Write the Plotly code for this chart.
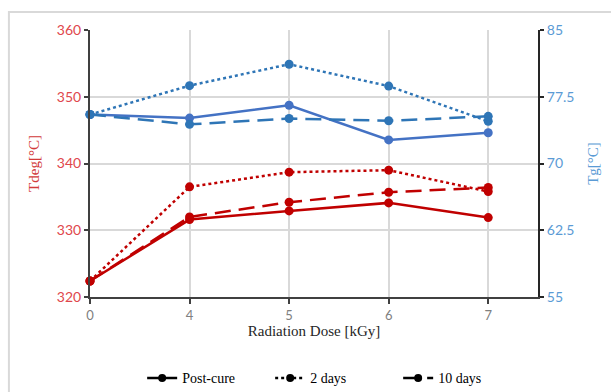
import plotly.graph_objects as go

# Radiation dose categories (kGy)
doses = ["0", "4", "5", "6", "7"]

# Degradation temperature Tdeg [°C] (left axis)
tdeg_post_cure = [322.4, 331.6, 332.9, 334.1, 331.9]
tdeg_2_days = [322.4, 336.5, 338.7, 339.0, 335.8]
tdeg_10_days = [322.4, 332.0, 334.2, 335.7, 336.4]

# Glass transition temperature Tg [°C] (right axis)
tg_post_cure = [75.5, 75.1, 76.55, 72.65, 73.45]
tg_2_days = [75.5, 78.75, 81.15, 78.7, 74.75]
tg_10_days = [75.5, 74.4, 75.05, 74.8, 75.3]

left_ticks = [320, 330, 340, 350, 360]
right_ticks = [55, 62.5, 70, 77.5, 85]

series_names = ["Post-cure", "2 days", "10 days"]
dashes = ["solid", "dot", "16px,8px"]

RED = "#C00000"
BLUE_SOLID = "#4472C4"
BLUE = "#2E75B6"
SERIF = "Liberation Serif, Times New Roman, serif"
SANS = "Lato, Open Sans, sans-serif"

xpos = list(range(len(doses)))

fig = go.Figure()

for vals, dash in zip([tdeg_post_cure, tdeg_2_days, tdeg_10_days], dashes):
    fig.add_trace(go.Scatter(
        x=xpos, y=vals, mode="lines+markers",
        line=dict(color=RED, width=2.5, dash=dash),
        marker=dict(color=RED, size=9),
        showlegend=False, yaxis="y", cliponaxis=False,
    ))

for vals, dash, col in zip([tg_post_cure, tg_2_days, tg_10_days], dashes,
                           [BLUE_SOLID, BLUE, BLUE]):
    fig.add_trace(go.Scatter(
        x=xpos, y=vals, mode="lines+markers",
        line=dict(color=col, width=2.5, dash=dash),
        marker=dict(color=col, size=9),
        showlegend=False, yaxis="y2", cliponaxis=False,
    ))

# Black legend entries describing the line style of each ageing condition
for name, dash in zip(series_names, dashes):
    fig.add_trace(go.Scatter(
        x=[None], y=[None], mode="lines+markers", name=name,
        line=dict(color="black", width=2.5, dash=dash),
        marker=dict(color="black", size=8),
    ))

fig.update_layout(
    width=611, height=392,
    margin=dict(l=90, r=73, t=30, b=95, autoexpand=False),
    paper_bgcolor="white", plot_bgcolor="white",
    xaxis=dict(
        range=[0, 4.5], tickvals=xpos, ticktext=doses,
        showgrid=True, gridcolor="#D9D9D9", gridwidth=1.5,
        showline=True, linecolor="#404040", linewidth=2,
        ticks="outside", ticklen=5, tickcolor="#404040", tickwidth=2,
        tickfont=dict(family=SANS, size=13, color="#808080"),
        title=dict(text="Radiation Dose [kGy]", standoff=2,
                   font=dict(family=SERIF, size=15, color="#262626")),
        zeroline=False, automargin=False,
    ),
    yaxis=dict(
        range=[320, 360], tickvals=left_ticks,
        showgrid=True, gridcolor="#D9D9D9", gridwidth=1.5,
        showline=True, linecolor="#404040", linewidth=2,
        ticks="outside", ticklen=4, tickcolor="#404040", tickwidth=2,
        tickfont=dict(family=SANS, size=14, color="#E0474C"),
        title=dict(text="Tdeg[°C]", standoff=14,
                   font=dict(family=SERIF, size=15, color="#D23A3A")),
        zeroline=False, automargin=False,
    ),
    yaxis2=dict(
        range=[55, 85], tickvals=right_ticks, overlaying="y", side="right",
        showgrid=False,
        showline=True, linecolor="#262626", linewidth=2,
        ticks="outside", ticklen=4, tickcolor="#262626", tickwidth=2,
        tickfont=dict(family=SANS, size=14, color="#5B9BD5"),
        title=dict(text="Tg[°C]", standoff=14,
                   font=dict(family=SERIF, size=15, color="#5B9BD5")),
        zeroline=False, automargin=False,
    ),
    legend=dict(
        orientation="h", x=0.545, xanchor="center", y=-0.245, yanchor="top",
        font=dict(family=SERIF, size=14, color="black"),
        entrywidth=83, entrywidthmode="pixels",
        bgcolor="rgba(0,0,0,0)",
    ),
    shapes=[dict(
        type="rect", xref="paper", yref="paper",
        x0=-0.181, x1=1.3, y0=-0.5, y1=1.067,
        line=dict(color="#D9D9D9", width=2), layer="below",
    )],
)

fig.write_html("out.html")
